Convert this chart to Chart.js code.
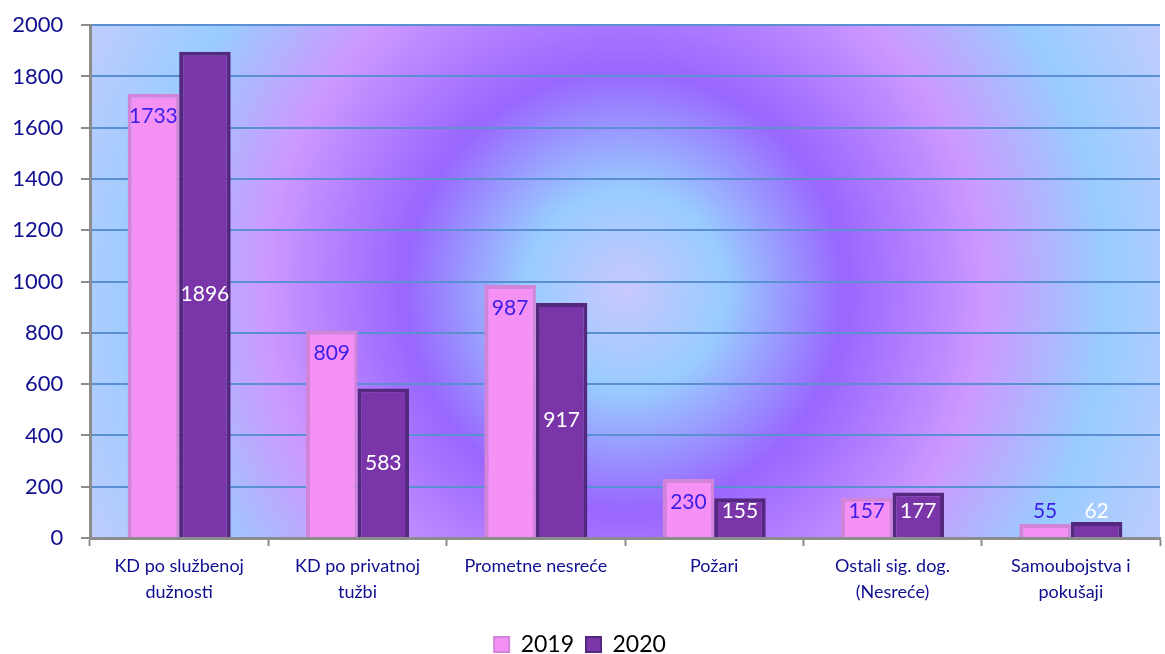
<!DOCTYPE html>
<html>
<head>
<meta charset="utf-8">
<script src="https://cdn.jsdelivr.net/npm/chart.js@4"></script>
<style>
  html, body { margin: 0; padding: 0; background: #fff; }
  #wrap { width: 1165px; height: 654px; }
</style>
</head>
<body>
<div id="wrap"><canvas id="chart"></canvas></div>
<script>
const categories = [
    ['KD po službenoj', 'dužnosti'],
    ['KD po privatnoj', 'tužbi'],
    'Prometne nesreće',
    'Požari',
    ['Ostali sig. dog.', '(Nesreće)'],
    ['Samoubojstva i', 'pokušaji']
];
const values2019 = [1733, 809, 987, 230, 157, 55];
const values2020 = [1896, 583, 917, 155, 177, 62];
const seriesNames = ['2019', '2020'];

// radial background behind the plot area
const plotBackground = {
    id: 'plotBackground',
    beforeDraw(chart) {
        const { ctx, chartArea: a } = chart;
        const cx = 625, cy = 290;
        const g = ctx.createRadialGradient(cx, cy, 0, cx, cy, 620);
        g.addColorStop(0, '#c8c8ff');
        g.addColorStop(100 / 620, '#99ccff');
        g.addColorStop(220 / 620, '#9966ff');
        g.addColorStop(360 / 620, '#cc99ff');
        g.addColorStop(480 / 620, '#99ccff');
        g.addColorStop(1, '#c8ccff');
        ctx.save();
        ctx.fillStyle = g;
        ctx.fillRect(a.left, a.top, a.right - a.left, a.bottom - a.top);
        ctx.restore();
    }
};

// push the legend row a little lower, close to the bottom edge
const legendShift = {
    id: 'legendShift',
    afterLayout(chart) {
        chart.legend.top += 12;
        chart.legend.bottom += 12;
    }
};

// value labels: 2019 near the top inside, 2020 centred
const valueLabels = {
    id: 'valueLabels',
    afterDatasetsDraw(chart) {
        const ctx = chart.ctx;
        ctx.save();
        ctx.font = '21px Lato';
        ctx.textAlign = 'center';
        ctx.textBaseline = 'middle';
        chart.data.datasets.forEach((ds, i) => {
            chart.getDatasetMeta(i).data.forEach((bar, j) => {
                let y = i === 0 ? bar.y + 23 : (bar.y + bar.base) / 2;
                y = Math.min(y, bar.base - 26);
                ctx.fillStyle = i === 0 ? '#3a1ee8' : '#ffffff';
                ctx.fillText(ds.data[j], bar.x, y);
            });
        });
        ctx.restore();
    }
};

new Chart(document.getElementById('chart'), {
    type: 'bar',
    data: {
        labels: categories,
        datasets: [
            {
                label: seriesNames[0],
                data: values2019,
                backgroundColor: '#f590f5',
                borderColor: '#d285d8',
                borderWidth: { left: 4, right: 3, top: 4, bottom: 0 },
                borderSkipped: false
            },
            {
                label: seriesNames[1],
                data: values2020,
                backgroundColor: '#7a36a8',
                borderColor: '#55287f',
                borderWidth: { left: 4, right: 4, top: 4, bottom: 0 },
                borderSkipped: false
            }
        ]
    },
    options: {
        responsive: true,
        maintainAspectRatio: false,
        animation: false,
        layout: { padding: { top: 25, right: 5, left: 0, bottom: 0 } },
        categoryPercentage: 0.578,
        barPercentage: 1,
        plugins: {
            tooltip: { enabled: false },
            legend: {
                position: 'bottom',
                labels: {
                    color: '#000',
                    font: { family: 'Lato', size: 23 },
                    boxWidth: 15,
                    boxHeight: 15,
                    padding: 12,
                    generateLabels(chart) {
                        return chart.data.datasets.map((ds, i) => ({
                            text: ds.label,
                            fillStyle: ds.backgroundColor,
                            strokeStyle: ds.borderColor,
                            lineWidth: 2,
                            datasetIndex: i
                        }));
                    }
                }
            }
        },
        scales: {
            x: {
                afterFit(scale) { scale.height = 71; },
                grid: {
                    offset: true,
                    drawOnChartArea: false,
                    drawTicks: true,
                    tickLength: 8,
                    tickColor: '#8c8c8c',
                    tickWidth: 2
                },
                border: { color: '#8c8c8c', width: 3 },
                ticks: {
                    color: '#0f0f8f',
                    font: { family: 'Lato', size: 18, lineHeight: 1.4 },
                    padding: 8,
                    maxRotation: 0,
                    autoSkip: false
                }
            },
            y: {
                min: 0,
                max: 2000,
                afterFit(scale) { scale.width = 90; },
                grid: {
                    color: '#5a8fd2',
                    lineWidth: 2,
                    tickLength: 9,
                    tickColor: '#8c8c8c',
                    tickWidth: 2
                },
                border: { color: '#8c8c8c', width: 3 },
                ticks: {
                    stepSize: 200,
                    color: '#0f0f8f',
                    font: { family: 'Lato', size: 22 },
                    padding: 12,
                    callback: v => v + ' '
                }
            }
        }
    },
    plugins: [plotBackground, legendShift, valueLabels]
});
</script>
</body>
</html>
